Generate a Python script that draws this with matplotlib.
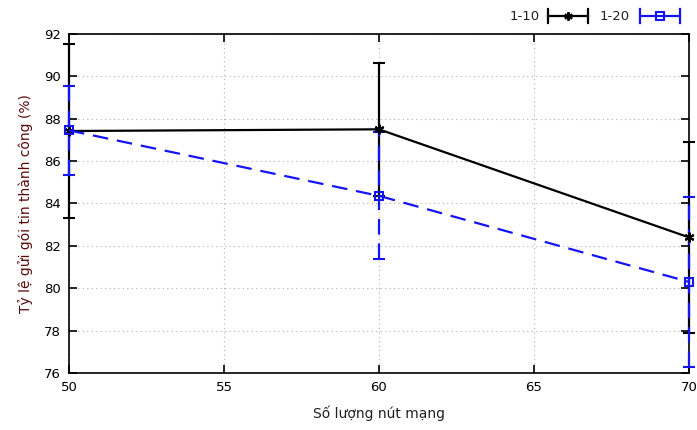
import matplotlib.pyplot as plt
from matplotlib.lines import Line2D

# so nut mang vs ty le gui goi tin thanh cong
nodes = [50, 60, 70]
rate_1_10 = [87.42, 87.5, 82.4]
err_1_10 = [4.1, 3.15, 4.5]
rate_1_20 = [87.45, 84.36, 80.3]
err_1_20 = [2.1, 3.0, 4.0]

star = (6, 2, 0)
series = [
    ('1-10', rate_1_10, err_1_10, 'black', '-', (7, star)),
    ('1-20', rate_1_20, err_1_20, '#1414f5', (0, (7, 4)), (6, 's')),
]

plt.rcParams['font.family'] = ['DejaVu Sans']
fig = plt.figure(figsize=(6.97, 4.30), dpi=100)
ax = fig.add_axes([0.099, 0.1326, 0.8895, 0.7884])

for name, vals, errs, col, ls, (ms, mk) in series:
    eb = ax.errorbar(nodes, vals, yerr=errs, color=col, linestyle=ls, linewidth=1.6,
                     marker=mk, markersize=ms, markerfacecolor='none' if mk == 's' else col,
                     markeredgewidth=1.5, capsize=4, capthick=1.6, elinewidth=1.6, zorder=3)
    eb[0].set_clip_on(False)
    for c in eb[1]:
        c.set_clip_on(False)
    for b in eb[2]:
        b.set_linestyle(ls)
        b.set_clip_on(False)

ax.set_xlim(50, 70)
ax.set_ylim(76, 92)
ax.set_xticks([50, 55, 60, 65, 70])
ax.set_yticks(range(76, 93, 2))
ax.grid(True, color='#b0b0b0', linestyle=(0, (1, 3)), linewidth=0.8)
ax.tick_params(direction='in', length=6, width=1.2, top=True, right=True,
               labelsize=9.5, pad=6)
for s in ax.spines.values():
    s.set_linewidth(1.2)

ax.set_xlabel('Số lượng nút mạng', fontsize=10, color='#202020', labelpad=8)
ax.set_ylabel('Tỷ lệ gửi gói tin thành công (%)', fontsize=10, color='#5a0a0a', labelpad=8)

# legend in gnuplot style, outside the top right corner
legend_items = [('1-10', 'black', star, 'black', 0.738, 0.786),
                ('1-20', '#1414f5', 's', 'none', 0.868, 0.918)]
ly = 1 - 16 / 430
for name, col, mk, fc, tx, sx in legend_items:
    fig.text(tx + 0.036, ly, name, ha='right', va='center', fontsize=9.5, color='#202020')
    x0, x1 = sx, sx + 0.058
    fig.add_artist(Line2D([x0, x1], [ly, ly], color=col, lw=1.6, transform=fig.transFigure))
    for xe in (x0, x1):
        fig.add_artist(Line2D([xe, xe], [ly - 0.016, ly + 0.016], color=col, lw=1.6,
                              transform=fig.transFigure))
    fig.add_artist(Line2D([(x0 + x1) / 2], [ly], color=col, marker=mk, markersize=6,
                          markerfacecolor=fc, markeredgewidth=1.5, transform=fig.transFigure))

fig.savefig('out.png', dpi=100)
